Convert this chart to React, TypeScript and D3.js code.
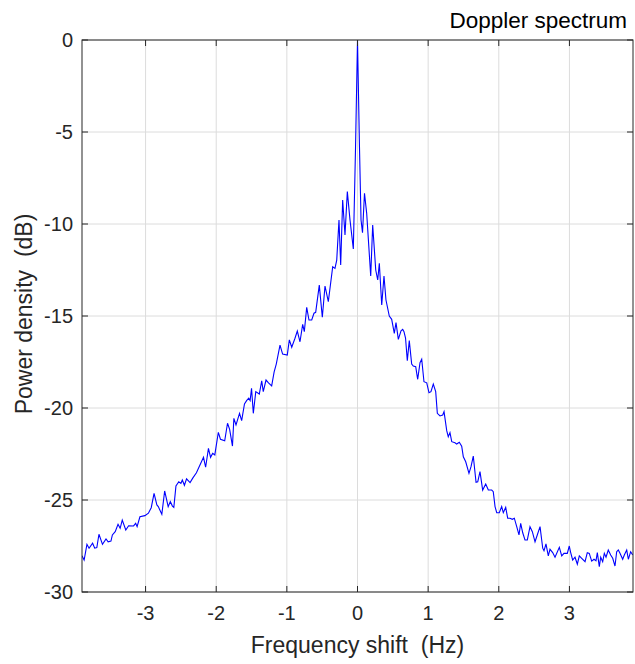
import React from 'react';
import * as d3 from 'd3';

const freqHz: number[] = [
  -3.9, -3.87, -3.83, -3.8, -3.75, -3.72, -3.69, -3.66, -3.61, -3.56, -3.53, -3.49, -3.47, -3.43, -3.39, -3.36,
  -3.33, -3.28, -3.24, -3.17, -3.14, -3.12, -3.08, -3.01, -2.96, -2.92, -2.88, -2.84, -2.82, -2.77, -2.73, -2.68,
  -2.65, -2.62, -2.6, -2.57, -2.53, -2.5, -2.48, -2.45, -2.42, -2.37, -2.33, -2.28, -2.18, -2.15, -2.11, -2.08, -2.05, -2.02,
  -1.97, -1.94, -1.88, -1.84, -1.81, -1.77, -1.75, -1.72, -1.67, -1.64, -1.6, -1.57, -1.54, -1.52, -1.5, -1.475,
  -1.44, -1.39, -1.356, -1.334, -1.295, -1.26, -1.215, -1.18, -1.15, -1.097, -1.06, -0.994, -0.965, -0.931, -0.885,
  -0.852, -0.814, -0.776, -0.753, -0.719, -0.687, -0.648, -0.616, -0.592, -0.541, -0.498, -0.46, -0.413, -0.351,
  -0.319, -0.294, -0.262, -0.238, -0.21, -0.177, -0.144, -0.106, -0.059, -0.028, 0,
  0.028, 0.05, 0.071, 0.099, 0.13, 0.187, 0.215, 0.258, 0.286, 0.309, 0.343, 0.375, 0.403, 0.45, 0.484, 0.521,
  0.545, 0.578, 0.616, 0.64, 0.658, 0.68, 0.705, 0.733, 0.767, 0.79, 0.824, 0.852, 0.885, 0.909, 0.941, 0.98,
  1.012, 1.04, 1.073, 1.107, 1.13, 1.168, 1.206, 1.225, 1.263, 1.285, 1.309, 1.334, 1.38, 1.404, 1.441, 1.475,
  1.498, 1.532, 1.578, 1.607, 1.639, 1.678, 1.702, 1.734, 1.772, 1.815, 1.852, 1.9, 1.922, 1.947, 1.971, 2.007,
  2.041, 2.064, 2.098, 2.126, 2.159, 2.191, 2.22, 2.254, 2.286, 2.31, 2.339, 2.371, 2.404, 2.442, 2.475, 2.513,
  2.545, 2.584, 2.622, 2.64, 2.668, 2.701, 2.725, 2.763, 2.796, 2.857, 2.891, 2.923, 2.97, 2.998, 3.018, 3.046,
  3.079, 3.112, 3.14, 3.174, 3.221, 3.253, 3.281, 3.315, 3.348, 3.376, 3.395, 3.423, 3.443, 3.471, 3.494, 3.518,
  3.55, 3.584, 3.613, 3.645, 3.669, 3.692, 3.716, 3.754, 3.777, 3.811, 3.834, 3.867, 3.896,
];

const powerDb: number[] = [
  -28.03, -28.26, -27.41, -27.62, -27.35, -27.62, -27.59, -26.86, -27.41, -27.12, -27.27, -27.23, -26.9, -26.72, -26.32, -26.54,
  -26.09, -26.63, -26.4, -26.41, -26.27, -26.45, -25.91, -25.85, -25.72, -25.42, -24.64, -25.27, -25.36, -25.78, -24.51, -25.36,
  -25.09, -25.33, -25.4, -24.24, -24.01, -24.1, -23.91, -24.2, -23.85, -24.05, -23.8, -23.52, -22.68, -23.22, -22.19, -22.68, -22.46, -22.55,
  -21.32, -21.7, -21.78, -20.83, -21.16, -22.07, -20.56, -20.92, -20.29, -20.69, -19.78, -19.6, -19.47, -19.6, -18.93, -20.29,
  -19.11, -19.24, -18.53, -19.11, -18.48, -18.64, -18.8, -18.04, -17.61, -16.58, -17.07, -17.12, -16.3, -16.7, -16.21,
  -15.82, -16.4, -15.45, -15.85, -14.53, -15.22, -15.22, -14.85, -14.8, -13.32, -15.07, -13.37, -14.22, -12.32,
  -12.41, -11.96, -9.78, -12.23, -8.7, -10.6, -8.24, -9.78, -11.36, -5.87, 0,
  -5.82, -9.78, -10.47, -8.33, -9.42, -12.83, -10.05, -12.5, -13.04, -12.14, -14.4, -12.83, -14.13, -15.0, -15.18, -15.94,
  -15.36, -16.27, -15.8, -15.72, -15.85, -16.2, -17.43, -16.34, -17.61, -17.72, -17.76, -18.44, -17.54, -17.35, -18.57, -18.63,
  -19.17, -19.11, -18.7, -19.11, -20.29, -20.43, -20.38, -20.2, -21.23, -21.56, -21.34, -21.83, -21.89, -21.96, -21.86, -22.07,
  -22.65, -22.92, -23.55, -23.19, -22.61, -24.04, -24.01, -23.46, -24.46, -24.13, -24.46, -24.46, -24.55, -25.36, -25.69, -25.69,
  -25.36, -25.69, -25.4, -25.99, -25.99, -26.05, -25.99, -26.45, -26.9, -26.27, -26.78, -27.17, -27.17, -26.45, -26.72, -27.27,
  -26.9, -26.45, -27.62, -27.76, -27.39, -28.04, -27.68, -27.86, -28.11, -27.57, -28.04, -27.9, -27.9, -27.5, -27.86, -28.26,
  -28.11, -28.49, -28.04, -28.17, -28.35, -27.86, -27.9, -28.32, -28.22, -28.3, -27.86, -28.62, -28.11, -28.35, -27.9, -28.11,
  -27.72, -27.99, -28.17, -28.59, -27.81, -27.72, -27.9, -28.22, -27.99, -27.72, -28.22, -27.81, -27.99,
];

const xTicks: number[] = [-3, -2, -1, 0, 1, 2, 3];
const yTicks: number[] = [-30, -25, -20, -15, -10, -5, 0];
const titleText = 'Doppler spectrum';
const xLabelText = 'Frequency shift  (Hz)';
const yLabelText = 'Power density  (dB)';

export default function App() {
  const W = 635;
  const H = 664;
  const left = 82, right = 633, top = 40, bottom = 592;
  const x = d3.scaleLinear().domain([-3.9, 3.9]).range([left, right]);
  const y = d3.scaleLinear().domain([-30, 0]).range([bottom, top]);
  const pts: [number, number][] = freqHz.map((f, i) => [f, powerDb[i]]);
  const line = d3.line<[number, number]>().x(d => x(d[0])).y(d => y(d[1]));
  const axisColor = '#262626';
  const gridColor = '#dcdcdc';
  const font = 'Liberation Sans, Arial, Helvetica, sans-serif';
  const tickLen = 6;

  return (
    <div style={{ position: 'absolute', left: 0, top: 0 }}>
      <svg width={W} height={H} viewBox={`0 0 ${W} ${H}`} style={{ display: 'block', background: '#fff' }}>
        <rect x={0} y={0} width={W} height={H} fill="#fff" />
        {xTicks.map(t => (
          <line key={'gx' + t} x1={x(t)} x2={x(t)} y1={top} y2={bottom} stroke={gridColor} strokeWidth={1} />
        ))}
        {yTicks.map(t => (
          <line key={'gy' + t} x1={left} x2={right} y1={y(t)} y2={y(t)} stroke={gridColor} strokeWidth={1} />
        ))}
        <defs>
          <clipPath id="plotclip">
            <rect x={left} y={top - 1} width={right - left} height={bottom - top + 2} />
          </clipPath>
        </defs>
        <path d={line(pts) || ''} fill="none" stroke="#0000ff" strokeWidth={1.1} strokeLinejoin="miter" clipPath="url(#plotclip)" />
        <rect x={left} y={top} width={right - left} height={bottom - top} fill="none" stroke={axisColor} strokeWidth={1} />
        {xTicks.map(t => (
          <g key={'tx' + t}>
            <line x1={x(t)} x2={x(t)} y1={bottom} y2={bottom - tickLen} stroke={axisColor} />
            <line x1={x(t)} x2={x(t)} y1={top} y2={top + tickLen} stroke={axisColor} />
            <text x={x(t)} y={620} textAnchor="middle" fontFamily={font} fontSize={20} fill={axisColor}>
              {t}
            </text>
          </g>
        ))}
        {yTicks.map(t => (
          <g key={'ty' + t}>
            <line x1={left} x2={left + tickLen} y1={y(t)} y2={y(t)} stroke={axisColor} />
            <line x1={right} x2={right - tickLen} y1={y(t)} y2={y(t)} stroke={axisColor} />
            <text x={73} y={y(t) + 7} textAnchor="end" fontFamily={font} fontSize={20} fill={axisColor}>
              {t}
            </text>
          </g>
        ))}
        <text x={627} y={28} textAnchor="end" fontFamily={font} fontSize={22.5} fill="#000">
          {titleText}
        </text>
        <text x={(left + right) / 2} y={653} textAnchor="middle" fontFamily={font} fontSize={23} fill={axisColor} style={{ whiteSpace: 'pre' }}>
          {xLabelText}
        </text>
        <text
          transform={`translate(32, ${(top + bottom) / 2 - 2}) rotate(-90)`}
          textAnchor="middle"
          fontFamily={font}
          fontSize={23}
          fill={axisColor}
          style={{ whiteSpace: 'pre' }}
        >
          {yLabelText}
        </text>
      </svg>
    </div>
  );
}
